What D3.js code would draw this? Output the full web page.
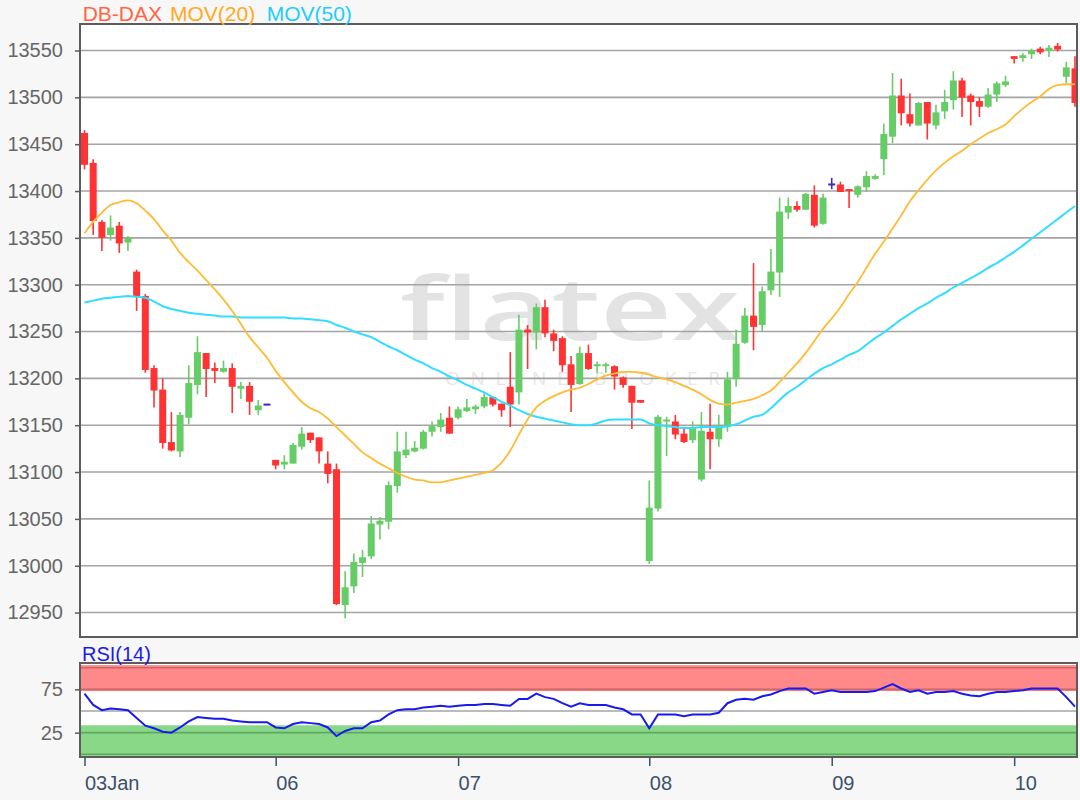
<!DOCTYPE html>
<html><head><meta charset="utf-8">
<script src="https://cdn.jsdelivr.net/npm/d3@7"></script>
<style>html,body{margin:0;padding:0;background:#f7f7f7;} svg{display:block;}</style>
</head><body><svg id="c" width="1080" height="800"></svg>
<script>
// ---- data ----
const openV  = [13462,13430,13367,13353,13363,13345,13314,13288,13211,13188,13132,13122,13158,13193,13227,13211,13207,13211,13189,13192,13166,13172,
13113,13108,13109,13127,13142,13137,13109,13103,12958,12978,13003,13010,13044,13047,13085,13118,13122,13125,13143,13148,13158,
13158,13165,13167,13170,13180,13173,13191,13185,13252,13249,13276,13248,13243,13215,13194,13227,13213,13212,13213,13201,13192,13177,
13005,13061,13153,13154,13141,13134,13092,13143,13135,13148,13199,13238,13267,13257,13294,13313,13377,13384,13380,13396,13365,
13407,13407,13401,13396,13404,13413,13434,13458,13502,13482,13470,13495,13470,13485,13497,13518,13502,13496,13490,13503,13513,
13544,13542,13546,13552,13550,13555,13522,13531];
const highV  = [13465,13434,13369,13374,13367,13352,13316,13290,13214,13200,13164,13164,13214,13245,13227,13217,13219,13216,13196,13196,13177,13172,
13113,13118,13131,13148,13142,13137,13122,13109,12994,13013,13017,13053,13052,13090,13143,13143,13133,13145,13154,13163,13170,
13170,13178,13172,13184,13181,13173,13228,13268,13257,13280,13284,13252,13245,13224,13234,13236,13218,13217,13214,13202,13192,13177,
13091,13161,13159,13161,13147,13154,13164,13173,13161,13207,13252,13275,13323,13298,13338,13393,13393,13389,13398,13406,13397,
13414,13410,13402,13406,13421,13418,13472,13526,13520,13504,13495,13495,13492,13508,13528,13521,13504,13500,13510,13517,13523,
13544,13547,13552,13554,13556,13558,13538,13544];
const lowV   = [13423,13353,13336,13347,13334,13336,13272,13206,13169,13125,13122,13116,13151,13183,13180,13195,13206,13163,13178,13161,13161,13172,
13103,13103,13109,13124,13131,13109,13088,12958,12944,12971,12988,13007,13028,13039,13078,13115,13121,13124,13138,13143,13141,
13156,13164,13162,13168,13170,13159,13148,13172,13210,13231,13244,13229,13207,13164,13193,13209,13206,13206,13188,13190,13146,13174,
13002,13058,13117,13135,13131,13131,13090,13103,13127,13143,13191,13237,13230,13250,13289,13287,13370,13378,13380,13361,13364,
13402,13399,13382,13393,13399,13412,13417,13451,13470,13469,13470,13455,13466,13477,13487,13479,13470,13479,13489,13495,13511,
13536,13538,13541,13546,13543,13549,13515,13490];
const closeV = [13428,13368,13350,13361,13344,13350,13288,13209,13187,13131,13123,13161,13195,13228,13210,13208,13211,13191,13192,13175,13171,13172,
13107,13111,13129,13141,13134,13122,13098,12959,12977,13004,13009,13045,13048,13086,13122,13124,13126,13143,13149,13156,13141,
13167,13169,13170,13180,13172,13166,13172,13252,13249,13276,13248,13240,13214,13193,13227,13210,13214,13214,13202,13193,13174,13174,
13062,13159,13155,13140,13132,13147,13144,13135,13148,13199,13237,13267,13255,13293,13314,13378,13384,13380,13397,13363,13393,
13407,13399,13399,13405,13416,13416,13461,13502,13483,13472,13494,13472,13484,13495,13518,13500,13495,13490,13503,13515,13517,
13541,13545,13550,13548,13553,13551,13532,13494];
const ma20 = [13355,13367,13377,13385,13388,13390,13387,13379,13370,13358,13347,13334,13324,13315,13305,13295,13284,13272,13258,13244,13233,13222,
13208,13196,13185,13175,13168,13164,13157,13148,13139,13130,13121,13115,13109,13104,13099,13095,13092,13091,13089,13089,13091,
13093,13095,13097,13099,13102,13110,13123,13140,13156,13169,13176,13181,13185,13188,13190,13194,13199,13203,13205,13207,13207,13206,
13204,13201,13199,13196,13192,13188,13183,13177,13173,13172,13174,13176,13178,13182,13187,13196,13206,13216,13227,13240,13253,
13264,13276,13290,13303,13318,13333,13346,13360,13374,13389,13401,13412,13422,13430,13437,13443,13450,13456,13462,13466,13471,
13480,13488,13495,13501,13509,13513,13514,13514];
const ma50 = [13281,13283,13285,13286,13287,13288,13287,13286,13282,13277,13274,13272,13270,13269,13268,13267,13266,13266,13265,13265,13265,13265,
13265,13265,13264,13264,13263,13262,13261,13257,13254,13250,13247,13244,13239,13234,13230,13225,13220,13216,13211,13207,13202,
13198,13193,13189,13185,13180,13175,13171,13166,13162,13159,13157,13155,13153,13151,13150,13150,13152,13155,13156,13156,13156,13156,
13152,13150,13149,13148,13147,13147,13148,13148,13148,13149,13151,13155,13159,13161,13168,13177,13185,13191,13198,13205,13211,
13215,13220,13225,13229,13236,13243,13249,13256,13263,13269,13275,13280,13286,13291,13297,13302,13307,13312,13318,13323,13329,
13335,13342,13349,13356,13363,13370,13377,13384];
const rsi14 = [70,57,51,53,52,51,42,33,30,26,25,31,38,43,42,41,41,39,38,37,37,37,
31,30,35,37,36,35,31,21,27,30,30,37,39,46,51,52,52,54,55,56,55,
56,57,57,58,58,57,56,64,64,70,66,64,59,55,59,57,57,57,54,52,46,46,
30,46,46,46,44,46,46,46,48,59,63,64,63,67,69,73,76,76,76,70,72,
74,72,72,72,72,73,77,81,76,72,74,70,72,72,73,70,68,67,70,72,72,
73,74,76,76,76,76,66,55];
const yTicks = [12950,13000,13050,13100,13150,13200,13250,13300,13350,13400,13450,13500,13550];
const rsiTicks = [25,75];
const dayLabels = ["03Jan","06","07","08","09","10"];
const dayStart = [0,22,43,65,86,107];
const legendItems = [["DB-DAX","#ff6644"],["MOV(20)","#ffaa22"],["MOV(50)","#22ccff"]];

// ---- layout ----
const L = 80, R = 1077, mT = 24, mB = 637, rT = 663, rB = 757;
const FONT = "'Liberation Sans', Arial, sans-serif";
const svg = d3.select("#c");
const n = closeV.length;
const x = d3.scaleLinear().domain([0, n - 1]).range([84.5, 1075]);
const y = d3.scaleLinear().domain([12923.9, 13578.3]).range([mB, mT]);
const yr = d3.scaleLinear().domain([0, 100]).range([754.3, 667.7]);

svg.append("rect").attr("width",1080).attr("height",800).attr("fill","#f7f7f7");

// main panel
svg.append("rect").attr("x",L).attr("y",mT).attr("width",R-L).attr("height",mB-mT).attr("fill","#ffffff");

// watermark
svg.append("text").attr("x",400).attr("y",340).attr("font-family","'Open Sans', sans-serif")
  .attr("font-weight",600).attr("font-size",86).attr("fill","#e3e3e3")
  .attr("textLength",340).attr("lengthAdjust","spacingAndGlyphs").text("flatex");
svg.append("text").attr("x",445).attr("y",385).attr("font-family","'Open Sans', sans-serif")
  .attr("font-size",19).attr("fill","#e6e6e6")
  .attr("textLength",275).attr("lengthAdjust","spacing").text("ONLINE BROKER");

// gridlines
svg.append("g").selectAll("line").data(yTicks).join("line")
  .attr("x1",L).attr("x2",R).attr("y1",d=>y(d)).attr("y2",d=>y(d))
  .attr("stroke","#a4a4a4").attr("stroke-width",1.6);

svg.append("clipPath").attr("id","clipMain").append("rect")
  .attr("x",L).attr("y",mT).attr("width",R-L).attr("height",mB-mT);
const g = svg.append("g").attr("clip-path","url(#clipMain)");

const idx = d3.range(n);
const colorOf = i => closeV[i] > openV[i] ? "#66cc66" : (closeV[i] < openV[i] ? "#ff3333" : "#4422cc");
// wicks
g.append("g").selectAll("line").data(idx).join("line")
  .attr("x1",i=>x(i)).attr("x2",i=>x(i))
  .attr("y1",i=>y(highV[i])).attr("y2",i=>y(lowV[i]))
  .attr("stroke",colorOf).attr("stroke-width",1.6);
// bodies
const bw = 7;
g.append("g").selectAll("rect").data(idx).join("rect")
  .attr("x",i=>x(i)-bw/2)
  .attr("y",i=>Math.min(y(openV[i]),y(closeV[i])) - (Math.abs(y(openV[i])-y(closeV[i]))<2 ? 1 : 0))
  .attr("width",bw)
  .attr("height",i=>Math.max(2,Math.abs(y(openV[i])-y(closeV[i]))))
  .attr("fill",colorOf);

// moving averages
const lineMain = arr => d3.line().x((d,i)=>x(i)).y(d=>y(d)).curve(d3.curveMonotoneX)(arr);
g.append("path").attr("d",lineMain(ma50)).attr("fill","none").attr("stroke","#33ddff").attr("stroke-width",2);
g.append("path").attr("d",lineMain(ma20)).attr("fill","none").attr("stroke","#ffbb33").attr("stroke-width",1.8);

// frame
svg.append("rect").attr("x",L).attr("y",mT).attr("width",R-L).attr("height",mB-mT)
  .attr("fill","none").attr("stroke","#5c5c5c").attr("stroke-width",2);

// y axis
const ya = svg.append("g").attr("transform",`translate(${L},0)`)
  .call(d3.axisLeft(y).tickValues(yTicks).tickSize(5).tickPadding(12).tickFormat(d3.format("d")));
ya.select(".domain").remove();
ya.selectAll("line").attr("stroke","#5c5c5c").attr("stroke-width",1.5);
ya.selectAll("text").attr("font-family",FONT).attr("font-size",20).attr("fill","#666666");

// legend
const legendX = [82.7, 170, 266.7];
svg.append("g").selectAll("text").data(legendItems).join("text")
  .attr("x",(d,i)=>legendX[i]).attr("y",21).attr("font-family",FONT).attr("font-size",21)
  .attr("fill",d=>d[1]).text(d=>d[0]);

// RSI panel
svg.append("rect").attr("x",L).attr("y",rT).attr("width",R-L).attr("height",rB-rT).attr("fill","#ffffff");
svg.append("rect").attr("x",L).attr("y",yr(103)).attr("width",R-L).attr("height",yr(73)-yr(103)).attr("fill","#ff8888");
svg.append("rect").attr("x",L).attr("y",yr(33.5)).attr("width",R-L).attr("height",yr(-3)-yr(33.5)).attr("fill","#88d888");
[[100,"#cc6666"],[75,"#cc6666"],[50,"#a4a4a4"],[25,"#5fa85f"],[0,"#5fa85f"]].forEach(([v,c])=>{
  svg.append("line").attr("x1",L).attr("x2",R).attr("y1",yr(v)).attr("y2",yr(v)).attr("stroke",c).attr("stroke-width",1.6);
});
svg.append("clipPath").attr("id","clipRsi").append("rect").attr("x",L).attr("y",rT).attr("width",R-L).attr("height",rB-rT);
svg.append("g").attr("clip-path","url(#clipRsi)").append("path")
  .attr("d",d3.line().x((d,i)=>x(i)).y(d=>yr(d))(rsi14))
  .attr("fill","none").attr("stroke","#1a1aee").attr("stroke-width",2);
svg.append("rect").attr("x",L).attr("y",rT).attr("width",R-L).attr("height",rB-rT)
  .attr("fill","none").attr("stroke","#5c5c5c").attr("stroke-width",2);
const ra = svg.append("g").attr("transform",`translate(${L},0)`)
  .call(d3.axisLeft(yr).tickValues(rsiTicks).tickSize(5).tickPadding(12));
ra.select(".domain").remove();
ra.selectAll("line").attr("stroke","#5c5c5c").attr("stroke-width",1.5);
ra.selectAll("text").attr("font-family",FONT).attr("font-size",20).attr("fill","#666666");
svg.append("text").attr("x",82).attr("y",661).attr("font-family",FONT).attr("font-size",20)
  .attr("fill","#1a1aee").text("RSI(14)");

// x axis
const xa = svg.append("g").attr("transform",`translate(0,${rB})`)
  .call(d3.axisBottom(x).tickValues(dayStart).tickSize(9).tickPadding(10).tickFormat((d,i)=>dayLabels[i]));
xa.select(".domain").remove();
xa.selectAll("line").attr("stroke","#3b5169").attr("stroke-width",1.5);
xa.selectAll("text").attr("font-family",FONT).attr("font-size",20).attr("fill","#3b5169").attr("text-anchor","start");
</script>
</body></html>
